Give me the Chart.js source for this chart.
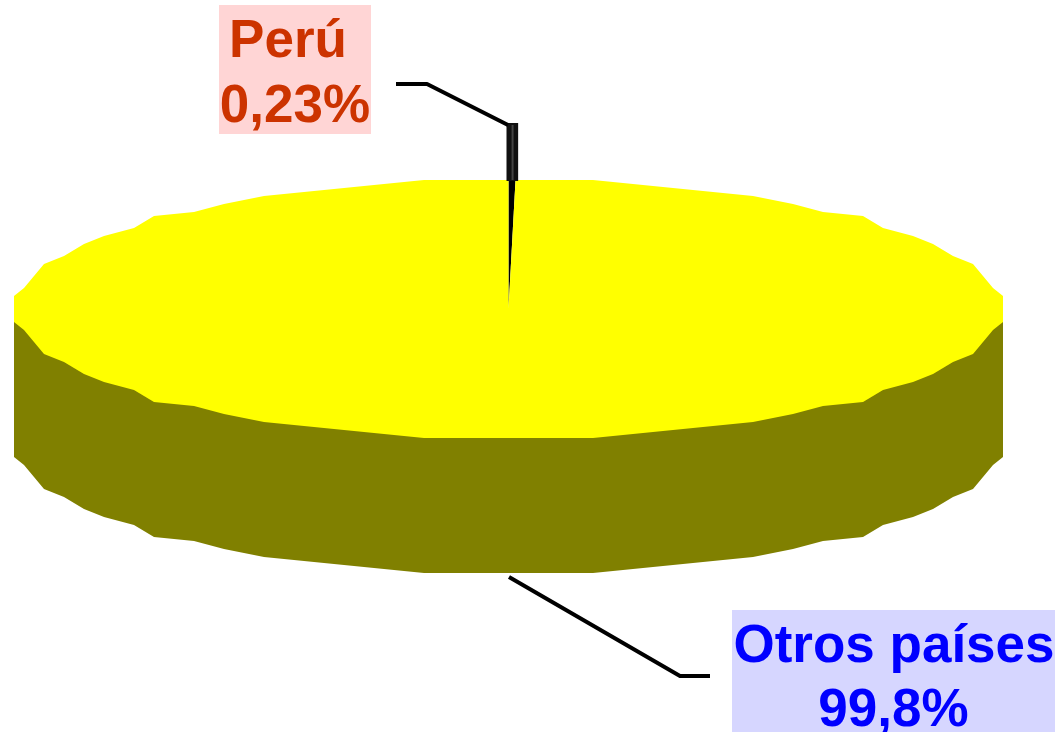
<!DOCTYPE html>
<html>
<head>
<meta charset="utf-8">
<title>Perú / Otros países</title>
<style>
  html, body { margin: 0; padding: 0; background: #ffffff; overflow: hidden; }
  canvas { display: block; }
</style>
<script src="https://cdn.jsdelivr.net/npm/chart.js@4"></script>
</head>
<body>
<canvas id="pie-chart" width="1055" height="732"></canvas>
<script>
// Data.
const categories = ['Perú', 'Otros países'];
const values = [0.23, 99.77];
const valueLabels = ['0,23%', '99,8%'];
const sliceColors = ['#000000', '#ffff00'];

// Pie projection: Chart.js draws a circle, the plugin squashes it to an ellipse.
const PIE = { cx: 508.5, cy: 309, rx: 494.5, ry: 129, depth: 135, side: '#808000' };

// The original rim is a coarse polygon, so the disc is clipped to a snapped ellipse.
const RIM_STEPS = 72;
const SNAP_X = 10;
const SNAP_Y = 4;
const OVERDRAW_X = 1.012;
const OVERDRAW_Y = 1.03;

// One callout per category, same order as categories.
const CALLOUTS = [
  {
    box: [219, 5, 152, 129], bg: '#ffd5d5', color: '#cc3300', textX: 288,
    baselines: [57, 122], valueX: 295,
    line: [[396, 84], [427, 84], [508, 125]]
  },
  {
    box: [732, 610, 323, 122], bg: '#d6d6ff', color: '#0000ff', textX: 894,
    baselines: [662, 726], valueX: 893.5,
    line: [[509, 577], [680, 676], [710, 676]]
  }
];

function rimPoints() {
  const pts = [];
  for (let i = 0; i < RIM_STEPS; i++) {
    const t = (i / RIM_STEPS) * Math.PI * 2;
    const dx = PIE.rx * Math.cos(t);
    const dy = PIE.ry * Math.sin(t);
    const inX = Math.round((PIE.rx - Math.abs(dx)) / SNAP_X) * SNAP_X;
    const inY = Math.round((PIE.ry - Math.abs(dy)) / SNAP_Y) * SNAP_Y;
    pts.push([
      PIE.cx + Math.sign(dx) * (PIE.rx - inX),
      PIE.cy + Math.sign(dy) * (PIE.ry - inY)
    ]);
  }
  return pts;
}

function tracePolygon(ctx, pts) {
  ctx.beginPath();
  pts.forEach((p, j) => (j ? ctx.lineTo(p[0], p[1]) : ctx.moveTo(p[0], p[1])));
  ctx.closePath();
}

function squash(ctx, arc) {
  ctx.translate(PIE.cx, PIE.cy);
  ctx.scale(PIE.rx * OVERDRAW_X / arc.outerRadius, PIE.ry * OVERDRAW_Y / arc.outerRadius);
  ctx.translate(-arc.x, -arc.y);
}

const pie3d = {
  id: 'pie3d',
  beforeDatasetsDraw(chart) {
    const ctx = chart.ctx;
    const arcs = chart.getDatasetMeta(0).data;
    const rim = rimPoints();

    // Olive wall under the disc: lower half of the rim pushed down by depth.
    const lower = rim.filter((p) => p[1] >= PIE.cy).map((p) => [p[0], p[1] + PIE.depth]);
    ctx.save();
    ctx.fillStyle = PIE.side;
    tracePolygon(ctx, [[PIE.cx + PIE.rx, PIE.cy], ...lower, [PIE.cx - PIE.rx, PIE.cy]]);
    ctx.fill();
    ctx.restore();

    // Everything the library draws next lands on the clipped ellipse.
    ctx.save();
    tracePolygon(ctx, rim);
    ctx.clip();
    squash(ctx, arcs[0]);
  },
  afterDatasetsDraw(chart) {
    const ctx = chart.ctx;
    ctx.restore();

    // Dark wall of the thin slice, standing above the rim.
    const arc = chart.getDatasetMeta(0).data[0];
    const x0 = PIE.cx + PIE.rx * Math.cos(arc.startAngle);
    const x1 = PIE.cx + PIE.rx * Math.cos(arc.endAngle);
    const top = PIE.cy - PIE.ry;
    ctx.save();
    ctx.fillStyle = '#111111';
    ctx.fillRect(x0 - 2, top - 57, x1 - x0 + 4.5, 58);
    ctx.fillStyle = '#444444';
    ctx.fillRect((x0 + x1) / 2 - 0.5, top - 55, 2, 55);
    ctx.restore();
  },
  afterDraw(chart) {
    const ctx = chart.ctx;
    ctx.save();
    ctx.font = 'bold 53px "Liberation Sans", Arial, sans-serif';
    ctx.textAlign = 'center';
    ctx.textBaseline = 'alphabetic';
    categories.forEach((name, i) => {
      const c = CALLOUTS[i];
      ctx.fillStyle = c.bg;
      ctx.fillRect(c.box[0], c.box[1], c.box[2], c.box[3]);
      ctx.fillStyle = c.color;
      ctx.fillText(name, c.textX, c.baselines[0]);
      ctx.fillText(valueLabels[i], c.valueX, c.baselines[1]);

      ctx.strokeStyle = '#000000';
      ctx.lineWidth = 4;
      ctx.lineJoin = 'round';
      ctx.beginPath();
      c.line.forEach((p, j) => (j ? ctx.lineTo(p[0], p[1]) : ctx.moveTo(p[0], p[1])));
      ctx.stroke();
    });
    ctx.restore();
  }
};

new Chart(document.getElementById('pie-chart'), {
  type: 'pie',
  data: {
    labels: categories,
    datasets: [
      {
        data: values,
        backgroundColor: sliceColors,
        borderWidth: 0
      }
    ]
  },
  options: {
    responsive: false,
    animation: false,
    plugins: { legend: { display: false }, tooltip: { enabled: false } }
  },
  plugins: [pie3d]
});
</script>
</body>
</html>
